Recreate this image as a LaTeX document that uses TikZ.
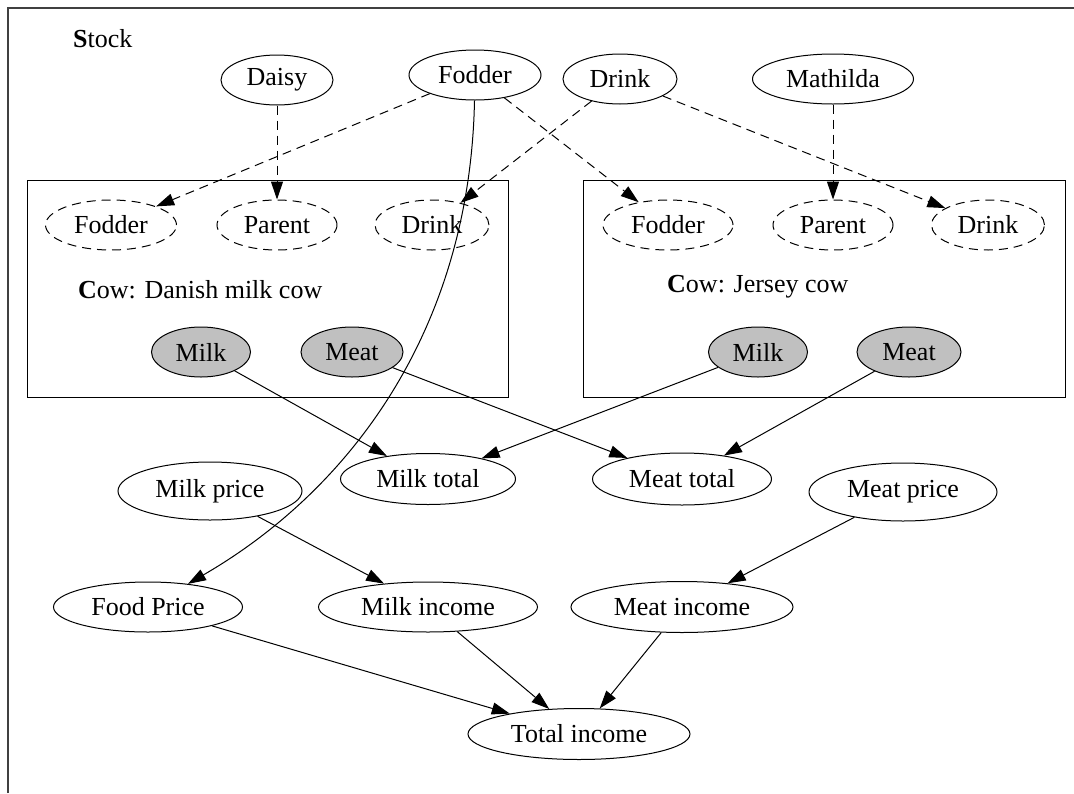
\documentclass[tikz,border=0pt]{standalone}
\usepackage{fontspec}
\setmainfont{Liberation Serif}
\usetikzlibrary{arrows.meta,shapes.geometric}
\definecolor{outgray}{HTML}{C0C0C0}
\begin{document}
\begin{tikzpicture}[x=1pt,y=-1pt,
  every node/.style={font=\fontsize{26}{30}\selectfont},
  var/.style={ellipse,draw,line width=1pt,inner sep=0pt,minimum height=50pt},
  ghost/.style={var,dash pattern=on 9pt off 6pt},
  outvar/.style={var,fill=outgray},
  cluster/.style={draw,line width=1pt,inner sep=0pt},
  lbl/.style={anchor=base west,inner sep=0pt},
  link/.style={draw,line width=1pt,-{Triangle[length=18pt,width=12pt]}},
  dlink/.style={link,dash pattern=on 9pt off 6pt}
]
\useasboundingbox (0,0) rectangle (1074,793);
% outer frame of the stock
\draw[line width=1.4pt,black!75] (8,793) -- (8,8) -- (1074,8);
\node[lbl] (stock) at (73,47) {\textbf{S}tock};

% stock level variables
\node[var,minimum width=112pt] (daisy) at (277,80) {Daisy};
\node[var,minimum width=132pt] (fodder) at (475,75) {Fodder};
\node[var,minimum width=114pt] (drink) at (620,79) {Drink};
\node[var,minimum width=161pt] (mathilda) at (833,79) {Mathilda};

% cow instances
\node[cluster,minimum width=481pt,minimum height=217pt] (cowA) at (267.5,288.5) {};
\node[cluster,minimum width=482pt,minimum height=217pt] (cowB) at (824,288.5) {};

\node[ghost,minimum width=131pt] (fodA) at (111,225) {Fodder};
\node[ghost,minimum width=120pt] (parA) at (277,225) {Parent};
\node[ghost,minimum width=114pt] (drkA) at (432,225) {Drink};
\node[lbl] (labA) at (78,298) {\textbf{C}ow: Danish milk cow};
\node[outvar,minimum width=99pt] (milkA) at (201,352) {Milk};
\node[outvar,minimum width=102pt] (meatA) at (352,352) {Meat};

\node[ghost,minimum width=130pt] (fodB) at (668,225) {Fodder};
\node[ghost,minimum width=120pt] (parB) at (833,225) {Parent};
\node[ghost,minimum width=113pt] (drkB) at (988,225) {Drink};
\node[lbl] (labB) at (667,292) {\textbf{C}ow: Jersey cow};
\node[outvar,minimum width=99pt] (milkB) at (758,352) {Milk};
\node[outvar,minimum width=104pt] (meatB) at (909,352) {Meat};

% totals, prices and income
\node[var,minimum width=175pt,minimum height=51pt] (milktot) at (428,479) {Milk total};
\node[var,minimum width=179pt,minimum height=52pt] (meattot) at (682,479) {Meat total};
\node[var,minimum width=184pt,minimum height=58pt] (milkprice) at (210,491) {Milk price};
\node[var,minimum width=188pt,minimum height=58pt] (meatprice) at (903,492) {Meat price};
\node[var,minimum width=189pt] (foodprice) at (148,607) {Food Price};
\node[var,minimum width=219pt] (milkinc) at (428,607) {Milk income};
\node[var,minimum width=222pt,minimum height=51pt] (meatinc) at (682,607) {Meat income};
\node[var,minimum width=222pt,minimum height=51pt] (total) at (579,734) {Total income};

% references into the cows
\draw[dlink] (fodder) -- (fodA);
\draw[dlink] (fodder) -- (fodB);
\draw[dlink] (daisy) -- (parA);
\draw[dlink] (mathilda) -- (parB);
\draw[dlink] (drink) -- (drkA);
\draw[dlink] (drink) -- (drkB);

% dependencies
\draw[link] (fodder) .. controls (470,330) and (350,490) .. (foodprice);
\draw[link] (milkA) -- (milktot);
\draw[link] (milkB) -- (milktot);
\draw[link] (meatA) -- (meattot);
\draw[link] (meatB) -- (meattot);
\draw[link] (milkprice) -- (milkinc);
\draw[link] (meatprice) -- (meatinc);
\draw[link] (foodprice) -- (total);
\draw[link] (milkinc) -- (total);
\draw[link] (meatinc) -- (total);
\end{tikzpicture}
\end{document}
